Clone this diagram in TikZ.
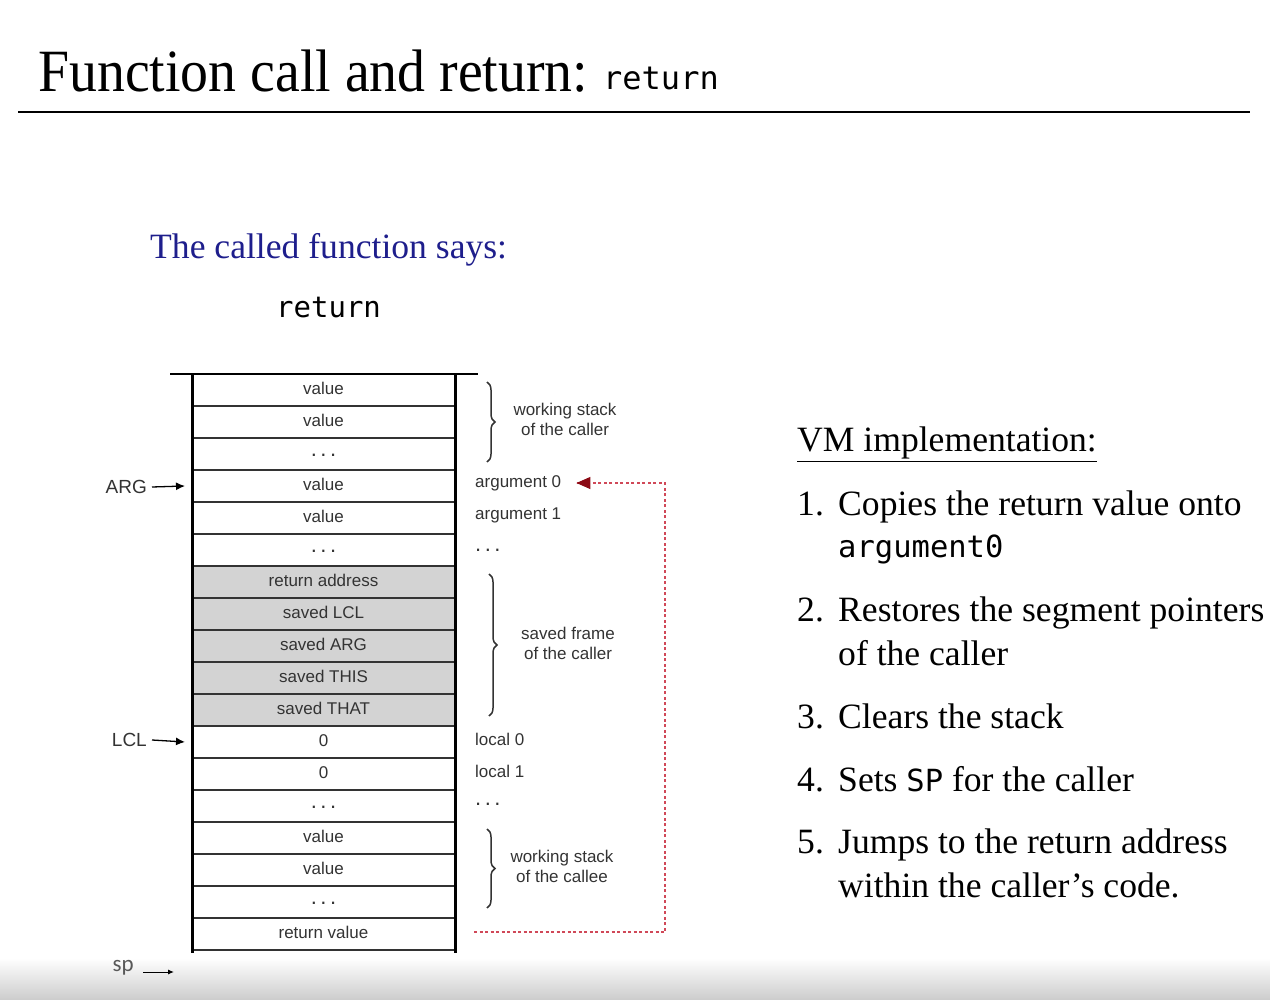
\documentclass[tikz,border=0pt]{standalone}
\usepackage{fontspec}
\setmainfont{Liberation Serif}
\setsansfont{Liberation Sans}
\setmonofont{DejaVu Sans Mono}
\newfontfamily\spfont{Carlito}
\usetikzlibrary{arrows.meta,decorations.pathreplacing}
\definecolor{navy}{HTML}{1E1E8C}
\definecolor{txtgray}{HTML}{333333}
\definecolor{cellgray}{HTML}{D3D3D3}
\definecolor{retred}{HTML}{D04858}
\definecolor{tipred}{HTML}{8B0A14}
\definecolor{shadegray}{HTML}{CCCCCC}
\newcommand\mydots{\raisebox{-5pt}{\fontsize{22}{22}\selectfont .\hspace{3.5pt}.\hspace{3.5pt}.}}
\begin{document}
\begin{tikzpicture}[x=1pt,y=-1pt,
  cell/.style={minimum width=263pt,minimum height=32pt,inner sep=0pt,draw=txtgray,line width=1.6pt,
     font=\sffamily\fontsize{17}{20}\selectfont,text=txtgray},
  side/.style={anchor=west,inner sep=0pt,font=\sffamily\fontsize{17}{20}\selectfont,text=txtgray},
  brlabel/.style={align=center,inner sep=0pt,font=\sffamily\fontsize{17}{20}\selectfont,text=txtgray},
  ptr/.style={anchor=east,inner sep=0pt,font=\sffamily\fontsize{19}{22}\selectfont,text=txtgray},
  ptrarrow/.style={-{Latex[length=9pt,width=8pt]},line width=1.3pt,black},
  brc/.style={decorate,decoration={brace,amplitude=8pt},line width=1.5pt,txtgray},
  item/.style={anchor=base west,inner sep=0pt,font=\fontsize{35.6}{40}\selectfont},
  mono/.style={anchor=base west,inner sep=0pt,font=\ttfamily\fontsize{29}{34}\selectfont}
]
\useasboundingbox (0,0) rectangle (1270,1000);
% bottom shade
\shade[top color=white,bottom color=shadegray] (0,958) rectangle (1270,1000);
% title
\node[anchor=base west,inner sep=0pt] (title) at (38,92)
  {\scalebox{0.93}[1]{\fontsize{60}{66}\selectfont Function call and return:}};
\node[anchor=base west,inner sep=0pt,font=\ttfamily\fontsize{32}{36}\selectfont] (titleret) at (603,90) {return};
\draw[line width=2pt] (18,112) -- (1250,112);
% caption
\node[anchor=base west,inner sep=0pt,text=navy,font=\fontsize{35.6}{40}\selectfont] (says) at (150,259) {The called function says:};
\node[mono] (ret) at (276,318) {return};
% stack cells
\foreach \t/\f [count=\i] in {value/white,value/white,\mydots/white,value/white,value/white,\mydots/white,
  return address/cellgray,saved LCL/cellgray,saved ARG/cellgray,saved THIS/cellgray,saved THAT/cellgray,
  0/white,0/white,\mydots/white,value/white,value/white,\mydots/white,return value/white}
  {\node[cell,fill=\f] (r\i) at (323.5,{390+32*(\i-1)}) {\raisebox{3pt}{\t}};}
\draw[line width=3pt] (192,374) -- (192,953);
\draw[line width=3pt] (455,374) -- (455,953);
\draw[line width=2.5pt] (170,374) -- (478,374);
% pointers
\node[ptr] (arg) at (147,487) {ARG};
\draw[ptrarrow] (arg.east) ++(5,0) coordinate (args) (args) -- (r4.west -| 185,0);
\node[ptr] (lcl) at (147,740) {LCL};
\draw[ptrarrow] (lcl.east) ++(5,0) coordinate (lcls) (lcls) -- (r12.west -| 185,0);
\node[anchor=east,inner sep=0pt,text=black!65,font=\spfont\fontsize{23}{26}\selectfont] (sp) at (134,968) {sp};
\coordinate (spend) at (174,972);
\draw[-{Latex[length=6pt,width=5pt]},line width=1pt,black] (sp.east) ++(9,4) coordinate (sps) (sps) -- (spend);
% side labels
\node[side] (a0) at (475,483) {argument 0};
\node[side] (a1) at (475,515) {argument 1};
\node[side] (ad) at (475,549) {\raisebox{2pt}{\mydots}};
\node[side] (l0) at (475,739) {local 0};
\node[side] (l1) at (475,771) {local 1};
\node[side] (ld) at (475,803) {\raisebox{2pt}{\mydots}};
% braces
\draw[brc] (487,382) -- (487,462);
\node[brlabel] (b1) at (565,419) {working stack\\of the caller};
\draw[brc] (489,574) -- (489,716);
\node[brlabel] (b2) at (568,643) {saved frame\\of the caller};
\draw[brc] (487,829) -- (487,908);
\node[brlabel] (b3) at (562,866) {working stack\\of the callee};
% return arrow
\coordinate (rvs) at (474,932);
\coordinate (rvc) at (665,932);
\draw[retred,line width=1.1pt,dash pattern=on 3pt off 2.5pt] (rvs) -- (rvc) |- ([xshift=16pt]a0.east);
\draw[-{Triangle[length=14pt,width=12pt]},tipred,line width=1.1pt] ([xshift=17pt]a0.east) -- ([xshift=15pt]a0.east);
% VM implementation
\node[item] (vm) at (797,452) {\underline{VM implementation:}};
\node[item] (n1) at (797,515) {1.};
\node[item] (t1) at (838,515) {Copies the return value onto};
\node[mono,font=\ttfamily\fontsize{30.5}{34}\selectfont] (t1b) at (838,557) {argument0};
\node[item] (n2) at (797,621) {2.};
\node[item] (t2) at (838,621) {Restores the segment pointers};
\node[item] (t2b) at (838,665) {of the caller};
\node[item] (n3) at (797,728) {3.};
\node[item] (t3) at (838,728) {Clears the stack};
\node[item] (n4) at (797,791) {4.};
\node[item] (t4) at (838,791) {Sets {\ttfamily\fontsize{30.5}{34}\selectfont SP} for the caller};
\node[item] (n5) at (797,853) {5.};
\node[item] (t5) at (838,853) {Jumps to the return address};
\node[item] (t5b) at (838,897) {within the caller’s code.};
\end{tikzpicture}
\end{document}
